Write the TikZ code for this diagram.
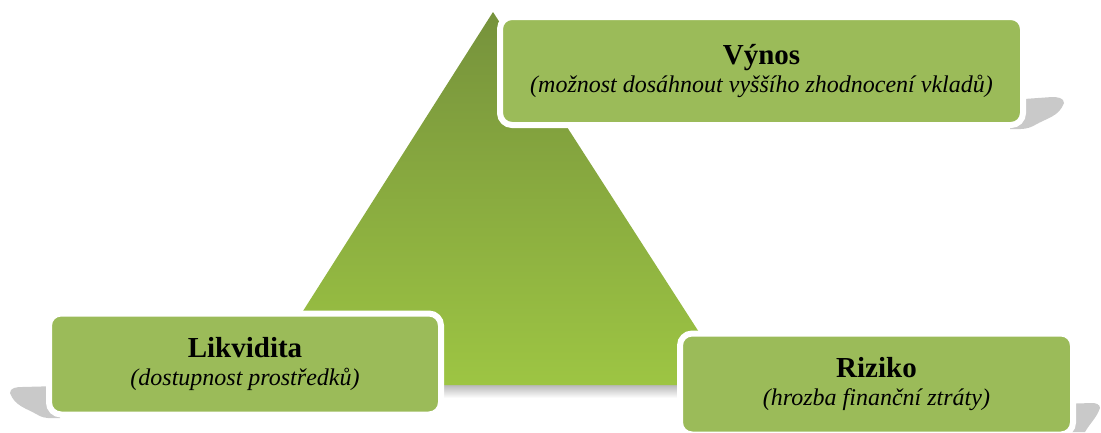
\documentclass[tikz,border=0pt]{standalone}
\usepackage{fontspec}
\setmainfont{Liberation Serif}
\usetikzlibrary{positioning}

\definecolor{boxgreen}{HTML}{9BBB59}
\definecolor{tritop}{HTML}{76923C}
\definecolor{tribottom}{HTML}{9DC543}
\definecolor{curlgray}{HTML}{C9C9C9}

\newcommand{\goaltitle}[1]{{\fontsize{29}{28}\selectfont\bfseries\upshape #1}}

\begin{document}
\begin{tikzpicture}[
  x=1pt, y=-1pt,
  every node/.style={font=\fontsize{24}{28}\selectfont\itshape},
  goalbox/.style={rectangle, rounded corners=12pt, fill=boxgreen, draw=white, line width=6pt, align=center, inner sep=0pt},
  curl/.style={fill=curlgray, draw=none}
]
\useasboundingbox (0,0) rectangle (1101,432);

% Triangle
\coordinate (apex) at (493,12);
\coordinate (lcorner) at (256,385);
\coordinate (rcorner) at (733,385);
\shade[top color=gray!55, bottom color=white] (lcorner) rectangle (740,398);
\shade[top color=tritop, bottom color=tribottom] (lcorner) -- (apex) -- (rcorner) -- cycle;

% Page curls behind the boxes
\fill[curl] (1010,100) -- (1052,97) to[out=0,in=90] (1064,103) to[out=-110,in=30] (1035,125) to[out=210,in=0] (1010,129) -- cycle;
\fill[curl] (60,386) -- (22,387) to[out=180,in=90] (10,393) to[out=-70,in=150] (38,415) to[out=-30,in=180] (60,418) -- cycle;
\fill[curl] (1060,404) -- (1092,403) to[out=0,in=90] (1100,408) to[out=-110,in=60] (1085,432) -- (1060,432) -- cycle;

% Boxes
\node[goalbox, minimum width=523pt, minimum height=108pt] (vynos) at (761.5,71) {\goaltitle{Výnos}\\(možnost dosáhnout vyššího zhodnocení vkladů)};
\node[goalbox, minimum width=392pt, minimum height=101pt] (likvidita) at (245,364) {\goaltitle{Likvidita}\\(dostupnost prostředků)};
\node[goalbox, minimum width=393pt, minimum height=101pt] (riziko) at (876.5,384) {\goaltitle{Riziko}\\(hrozba finanční ztráty)};

\end{tikzpicture}
\end{document}
